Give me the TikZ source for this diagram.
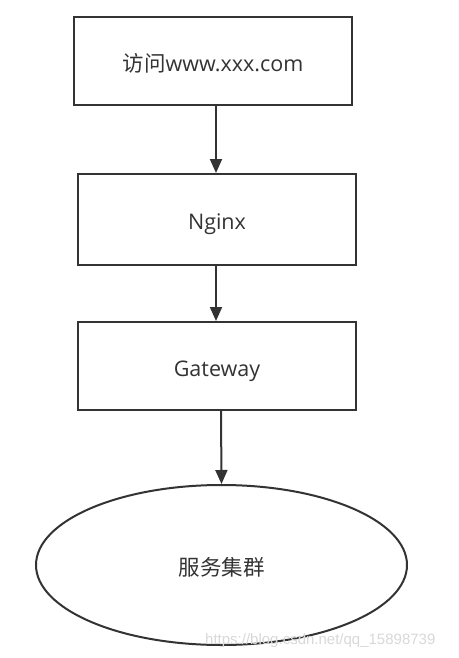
\documentclass[tikz,border=0pt]{standalone}
\usepackage{fontspec}
\setmainfont{Open Sans}
\newfontfamily\cjk{Noto Sans CJK SC}
\newfontfamily\wmfont{Liberation Sans}
\usetikzlibrary{arrows.meta,shapes.geometric}
\definecolor{ink}{HTML}{333333}
\definecolor{wm}{HTML}{D8D8D8}
\tikzset{
  lbl/.style={text=ink, font=\fontsize{21.5}{24}\selectfont, text height=20.5pt, text depth=0pt},
  box/.style={draw=ink, line width=2pt, rectangle, inner sep=0pt, lbl},
  oval/.style={draw=ink, line width=2pt, ellipse, inner sep=0pt, lbl},
  conn/.style={draw=ink, line width=2pt, -{Triangle[length=14pt,width=12pt]}},
}
\begin{document}
\begin{tikzpicture}[x=1pt,y=-1pt]
\useasboundingbox (0,0) rectangle (458,658);
\node[box, minimum width=278pt, minimum height=88pt] (visit) at (213,61) {{\cjk 访问}www.xxx.com};
\node[box, minimum width=278pt, minimum height=91pt] (nginx) at (217,219.5) {Nginx};
\node[box, minimum width=278pt, minimum height=88pt] (gw) at (217,366) {Gateway};
\node[oval, minimum width=371pt, minimum height=160pt] (svc) at (221.5,565) {\cjk 服务集群};
\draw[conn] (visit.south -| 216,0) -- (nginx.north -| 216,0);
\draw[conn] (nginx.south -| 216,0) -- (gw.north -| 216,0);
\draw[conn] (gw.south -| 221,0) -- (svc.north);
\node[anchor=base west, text=wm, font=\wmfont\fontsize{15}{17}\selectfont, inner sep=0pt] (mark) at (205,644) {https://blog.csdn.net/qq\_15898739};
\end{tikzpicture}
\end{document}
